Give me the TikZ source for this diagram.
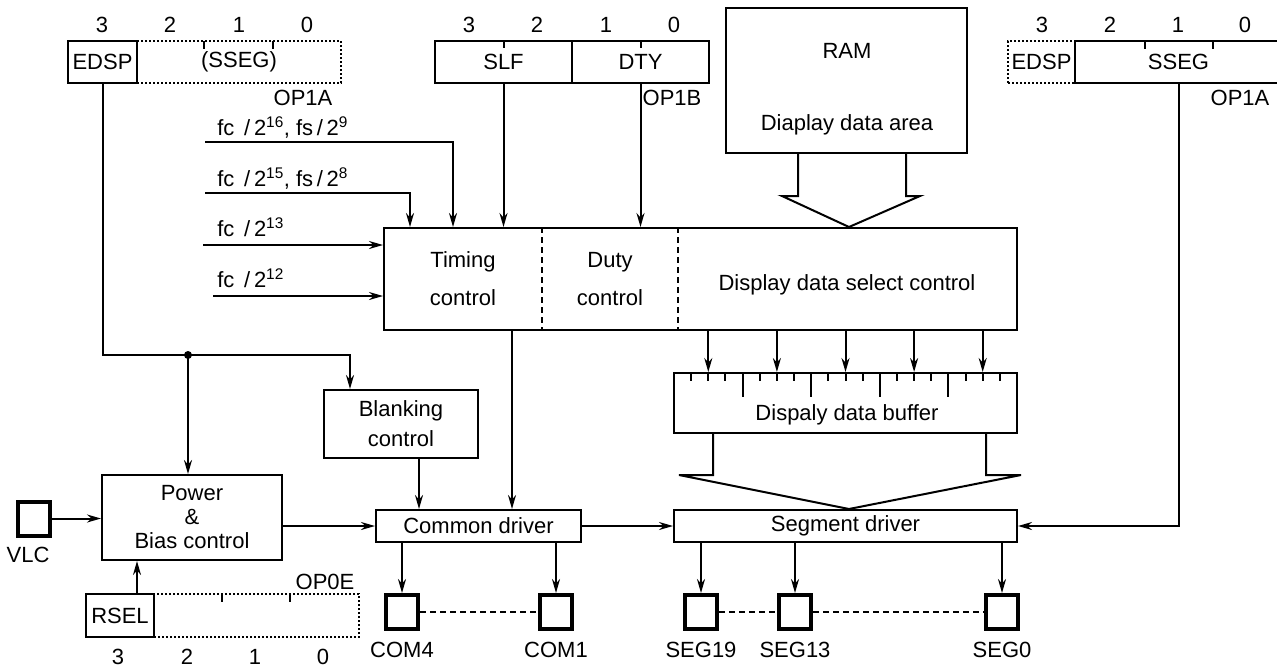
\documentclass[tikz,border=0pt]{standalone}
\usepackage{fontspec}
\setmainfont{Liberation Sans}
\usetikzlibrary{arrows.meta}
\begin{document}
\begin{tikzpicture}[x=1pt,y=-1pt,>={Stealth[length=14pt,width=8pt]},line width=2pt,font=\fontsize{22}{25}\selectfont,
 box/.style={draw,inner sep=0pt,align=center},dbox/.style={box,dotted},
 pad/.style={draw,line width=4pt,minimum width=32pt,minimum height=34pt}]
\clip (0,0) rectangle (1277,667);
% registers
\node[dbox,minimum width=204pt,minimum height=42pt] (ssegA) at (239,62) {(SSEG)};
\node[box,minimum width=69pt,minimum height=42pt] (edspA) at (102.5,62) {EDSP};
\node (opA) at (303,98) {OP1A}; \draw (204,41) -- ++(0,8) (273,41) -- ++(0,8);
\foreach \x/\b in {102/3,170/2,239/1,307/0} \node (bA\b) at (\x,25) {\b};
\node[box,minimum width=137pt,minimum height=42pt] (slf) at (503.5,62) {SLF};
\node[box,minimum width=137pt,minimum height=42pt] (dty) at (640.5,62) {DTY};
\node (opB) at (672,98) {OP1B}; \draw (slf.north) -- ++(0,8) (dty.north) -- ++(0,8);
\foreach \x/\b in {469/3,537/2,606/1,674/0} \node (bB\b) at (\x,25) {\b};
\node[dbox,minimum width=67pt,minimum height=42pt] (edspB) at (1041.5,62) {EDSP};
\node[box,minimum width=207pt,minimum height=42pt] (ssegB) at (1178.5,62) {SSEG};
\node (opC) at (1240,98) {OP1A}; \draw (1145,41) -- ++(0,8) (1213,41) -- ++(0,8);
\foreach \x/\b in {1042/3,1110/2,1178/1,1245/0} \node (bC\b) at (\x,25) {\b};
\node[dbox,minimum width=205pt,minimum height=43pt] (opE) at (256.5,615.5) {};
\node[box,minimum width=68pt,minimum height=43pt] (rsel) at (120,615.5) {RSEL};
\node (opEl) at (325,582) {OP0E}; \draw (222,594) -- ++(0,8) (290,594) -- ++(0,8);
\foreach \x/\b in {118/3,187/2,255/1,323/0} \node (bE\b) at (\x,657) {\b};
% blocks
\node[box,minimum width=241pt,minimum height=145pt] (ram) at (846.5,80.5) {};
\node (ramt) at (847,51) {RAM}; \node (ramd) at (847,125) {Diaplay data area};
\node[box,minimum width=633pt,minimum height=102pt] (ctl) at (700.5,279) {};
\draw[dash pattern=on 6pt off 4pt] (542,0 |- ctl.north) -- (542,0 |- ctl.south) (678,0 |- ctl.north) -- (678,0 |- ctl.south);
\node[align=center] (tim) at (463,279) {Timing\\[13pt]control};
\node[align=center] (duty) at (610,279) {Duty\\[13pt]control};
\node (dsel) at (847,285) {Display data select control};
\node[box,minimum width=343pt,minimum height=60pt] (buf) at (845.5,403) {};
\node (buft) at (847,415) {Dispaly data buffer};
\node[box,minimum width=343pt,minimum height=32pt] (seg) at (845.5,526) {Segment driver};
\node[box,minimum width=205pt,minimum height=32pt] (com) at (478.5,526) {Common driver};
\node[box,minimum width=154pt,minimum height=68pt] (blk) at (401,424) {Blanking\\[5pt]control};
\node[box,minimum width=180pt,minimum height=85pt] (pwr) at (192,517.5) {Power\\[-1pt]\&\\[-1pt]Bias control};
\node[pad] (vlc) at (34,518.5) {}; \node (vlcl) at (28,555) {VLC};
\foreach \n/\x in {COM4/402,COM1/556,SEG19/701,SEG13/795,SEG0/1002} {\node[pad] (\n) at (\x,612) {}; \node (l\n) at (\x,650) {\n};}
% wide arrows
\draw (798,0 |- ram.south) |- (782,196) -- (849,0 |- ctl.north) -- (920,196) -| (906,0 |- ram.south);
\draw (713,0 |- buf.south) |- (679,475) -- (849,0 |- seg.north) -- (1021,475) -| (986,0 |- buf.south);
\foreach \k in {1,...,19} \draw (674+17.15*\k,0 |- buf.north) -- ++(0,9);
\foreach \k in {4,8,12,16} \draw (674+17.15*\k,0 |- buf.north) -- ++(0,25);
% clocks
\coordinate (c16) at (205,142); \coordinate (c15) at (205,193); \coordinate (c13) at (203,245); \coordinate (c12) at (213,296);
\node[anchor=base west] (f16) at (213,135) {fc\ \,/\,2\textsuperscript{16}, fs\,/\,2\textsuperscript{9}};
\node[anchor=base west] (f15) at (213,186) {fc\ \,/\,2\textsuperscript{15}, fs\,/\,2\textsuperscript{8}};
\node[anchor=base west] (f13) at (213,236) {fc\ \,/\,2\textsuperscript{13}};
\node[anchor=base west] (f12) at (213,287) {fc\ \,/\,2\textsuperscript{12}};
\draw[->] (c16) -| (453,0 |- ctl.north); \draw[->] (c15) -| (410,0 |- ctl.north);
\draw[->] (c13) -- (c13 -| ctl.west); \draw[->] (c12) -- (c12 -| ctl.west);
% connectors
\path[->] (slf.south) edge (slf.south |- ctl.north) (dty.south) edge (dty.south |- ctl.north);
\foreach \k in {2,6,10,14,18} \draw[->] (674+17.15*\k,0 |- ctl.south) -- (674+17.15*\k,0 |- buf.north);
\coordinate (jn) at (188,355);
\draw[->] (edspA.south) |- (350,355) -- (350,0 |- blk.north); \fill (jn) circle (4pt);
\draw[->] (jn) -- (jn |- pwr.north);
\draw[->] (vlc) -- (vlc -| pwr.west);
\draw[->] (137,0 |- rsel.north) -- (137,0 |- pwr.south);
\draw[->] (pwr.east |- com.west) -- (com.west);
\draw[->] (419,0 |- blk.south) -- (419,0 |- com.north);
\draw[->] (512,0 |- ctl.south) -- (512,0 |- com.north);
\draw[->] (com) -- (seg); \draw[->] (ssegB.south) |- (seg.east);
\foreach \n in {COM4,COM1} \draw[->] (com.south -| \n) -- (\n);
\foreach \n in {SEG19,SEG13,SEG0} \draw[->] (seg.south -| \n) -- (\n);
\draw[dash pattern=on 6pt off 4pt] (COM4) -- (COM1) (SEG19) -- (SEG13) -- (SEG0);
\end{tikzpicture}
\end{document}
